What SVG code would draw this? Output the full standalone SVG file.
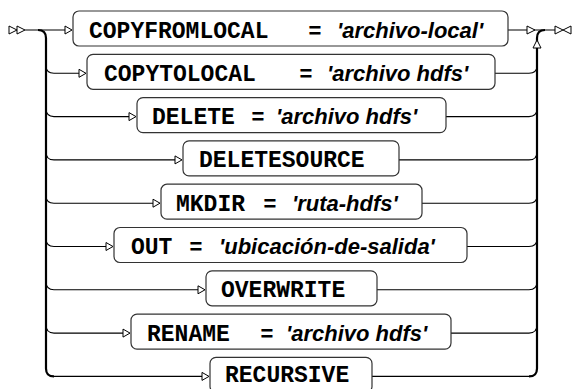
<svg xmlns="http://www.w3.org/2000/svg" width="573" height="389" viewBox="0 0 573 389">
<style>
.box{fill:#fff;stroke:#333;stroke-width:1.2}
.ln{fill:none;stroke:#000;stroke-width:1.1}
.thick{fill:none;stroke:#000;stroke-width:2.2}
.arr{fill:#fff;stroke:#000;stroke-width:1}
.kw{font-family:"Liberation Mono","Courier New",monospace;font-weight:bold;font-size:23px;fill:#000}
.eq{font-family:"Liberation Sans",Arial,sans-serif;font-weight:bold;font-size:22px;fill:#000;text-anchor:middle}
.val{font-family:"Liberation Sans",Arial,sans-serif;font-weight:bold;font-style:italic;font-size:22px;fill:#000}
</style>
<rect width="573" height="389" fill="#fff"/>
<g id="connectors">
<path class="ln" d="M25,30 H66"/>
<path class="thick" d="M38,30 Q46,30 46,38 V368.4 Q46,376.4 54,376.4"/>
<path class="ln" d="M54,376.4 H203"/>
<path class="ln" d="M46,65.3 Q46,73.3 54,73.3 H80"/>
<path class="ln" d="M46,108.6 Q46,116.6 54,116.6 H130"/>
<path class="ln" d="M46,151.9 Q46,159.9 54,159.9 H176"/>
<path class="ln" d="M46,195.2 Q46,203.2 54,203.2 H154"/>
<path class="ln" d="M46,238.5 Q46,246.5 54,246.5 H107"/>
<path class="ln" d="M46,281.8 Q46,289.8 54,289.8 H199"/>
<path class="ln" d="M46,325.1 Q46,333.1 54,333.1 H124"/>
<path class="ln" d="M508,30 H555"/>
<path class="thick" d="M545,30 Q537,30 537,38 V368.4 Q537,376.4 529,376.4"/>
<path class="ln" d="M529,376.4 H372"/>
<path class="ln" d="M495,73.3 H529 Q537,73.3 537,65.3"/>
<path class="ln" d="M446,116.6 H529 Q537,116.6 537,108.6"/>
<path class="ln" d="M399,159.9 H529 Q537,159.9 537,151.9"/>
<path class="ln" d="M422,203.2 H529 Q537,203.2 537,195.2"/>
<path class="ln" d="M467,246.5 H529 Q537,246.5 537,238.5"/>
<path class="ln" d="M377,289.8 H529 Q537,289.8 537,281.8"/>
<path class="ln" d="M451,333.1 H529 Q537,333.1 537,325.1"/>
<polygon class="arr" points="9,26 9,34 17,30"/>
<polygon class="arr" points="17,26 17,34 25,30"/>
<polygon class="arr" points="527,26 527,34 535,30"/>
<polygon class="arr" points="537,40 533,48 541,48"/>
<polygon class="arr" points="555,26 555,34 563,30"/>
<polygon class="arr" points="571,26 571,34 563,30"/>
<polygon class="arr" points="65,26 65,34 72,30"/>
<polygon class="arr" points="79,69.3 79,77.3 86,73.3"/>
<polygon class="arr" points="129,112.6 129,120.6 136,116.6"/>
<polygon class="arr" points="175,155.9 175,163.9 182,159.9"/>
<polygon class="arr" points="153,199.2 153,207.2 160,203.2"/>
<polygon class="arr" points="106,242.5 106,250.5 113,246.5"/>
<polygon class="arr" points="198,285.8 198,293.8 205,289.8"/>
<polygon class="arr" points="123,329.1 123,337.1 130,333.1"/>
<polygon class="arr" points="202,372.4 202,380.4 209,376.4"/>
</g>
<g id="n1"><rect class="box" x="73" y="11" width="435" height="35" rx="6"/><text class="kw" x="89" y="37.5">COPYFROMLOCAL</text><text class="eq" x="315" y="37.5">=</text><text class="val" x="337" y="37.5">'archivo-local'</text></g>
<g id="n2"><rect class="box" x="87" y="54.3" width="408" height="35" rx="6"/><text class="kw" x="104" y="80.8">COPYTOLOCAL</text><text class="eq" x="306" y="80.8">=</text><text class="val" x="327" y="80.8">'archivo hdfs'</text></g>
<g id="n3"><rect class="box" x="137" y="97.6" width="309" height="35" rx="6"/><text class="kw" x="152" y="124.1">DELETE</text><text class="eq" x="258" y="124.1">=</text><text class="val" x="276" y="124.1">'archivo hdfs'</text></g>
<g id="n4"><rect class="box" x="183" y="140.9" width="216" height="35" rx="6"/><text class="kw" x="199" y="167.4">DELETESOURCE</text></g>
<g id="n5"><rect class="box" x="161" y="184.2" width="261" height="35" rx="6"/><text class="kw" x="176" y="210.7">MKDIR</text><text class="eq" x="270" y="210.7">=</text><text class="val" x="292" y="210.7">'ruta-hdfs'</text></g>
<g id="n6"><rect class="box" x="114" y="227.5" width="353" height="35" rx="6"/><text class="kw" x="131" y="254">OUT</text><text class="eq" x="196" y="254">=</text><text class="val" x="219" y="254">'ubicación-de-salida'</text></g>
<g id="n7"><rect class="box" x="206" y="270.8" width="171" height="35" rx="6"/><text class="kw" x="221" y="297.3">OVERWRITE</text></g>
<g id="n8"><rect class="box" x="131" y="314.1" width="320" height="35" rx="6"/><text class="kw" x="147" y="340.6">RENAME</text><text class="eq" x="267" y="340.6">=</text><text class="val" x="286" y="340.6">'archivo hdfs'</text></g>
<g id="n9"><rect class="box" x="210" y="357.4" width="162" height="35" rx="6"/><text class="kw" x="225" y="382">RECURSIVE</text></g>
</svg>
